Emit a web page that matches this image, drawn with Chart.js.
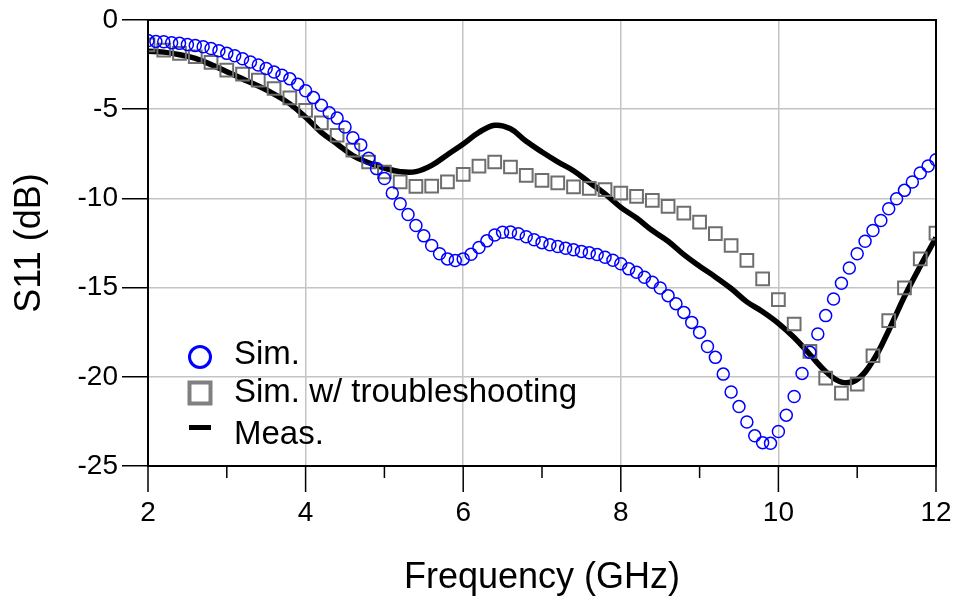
<!DOCTYPE html>
<html>
<head>
<meta charset="utf-8">
<script src="https://cdn.jsdelivr.net/npm/chart.js@4.4.1/dist/chart.umd.min.js"></script>
<style>
  html, body { margin: 0; padding: 0; background: #fff; }
</style>
</head>
<body>
<canvas id="myChart" width="956" height="605"></canvas>
<script>
// Sim. (blue circles), 0.1 GHz steps
const simFreq = [
  2.0, 2.1, 2.2, 2.3, 2.4, 2.5, 2.6, 2.7, 2.8, 2.9,
  3.0, 3.1, 3.2, 3.3, 3.4, 3.5, 3.6, 3.7, 3.8, 3.9,
  4.0, 4.1, 4.2, 4.3, 4.4, 4.5, 4.6, 4.7, 4.8, 4.9,
  5.0, 5.1, 5.2, 5.3, 5.4, 5.5, 5.6, 5.7, 5.8, 5.9,
  6.0, 6.1, 6.2, 6.3, 6.4, 6.5, 6.6, 6.7, 6.8, 6.9,
  7.0, 7.1, 7.2, 7.3, 7.4, 7.5, 7.6, 7.7, 7.8, 7.9,
  8.0, 8.1, 8.2, 8.3, 8.4, 8.5, 8.6, 8.7, 8.8, 8.9,
  9.0, 9.1, 9.2, 9.3, 9.4, 9.5, 9.6, 9.7, 9.8, 9.9,
  10.0, 10.1, 10.2, 10.3, 10.4, 10.5, 10.6, 10.7, 10.8, 10.9,
  11.0, 11.1, 11.2, 11.3, 11.4, 11.5, 11.6, 11.7, 11.8, 11.9,
  12.0
]
const simS11 = [
  -1.15, -1.2, -1.22, -1.27, -1.31, -1.37, -1.43, -1.5, -1.6, -1.72,
  -1.87, -2.0, -2.17, -2.35, -2.52, -2.72, -2.92, -3.1, -3.3, -3.6,
  -3.97, -4.35, -4.78, -5.2, -5.5, -6.0, -6.6, -7.0, -7.75, -8.33,
  -8.89, -9.7, -10.3, -10.9, -11.52, -12.1, -12.64, -13.1, -13.39, -13.48,
  -13.39, -13.13, -12.75, -12.38, -12.05, -11.9, -11.89, -11.98, -12.15, -12.32,
  -12.48, -12.6, -12.7, -12.8, -12.88, -12.97, -13.05, -13.15, -13.3, -13.47,
  -13.66, -13.95, -14.14, -14.42, -14.7, -15.02, -15.45, -15.9, -16.39, -16.95,
  -17.51, -18.3, -18.91, -19.85, -20.85, -21.67, -22.53, -23.31, -23.69, -23.73,
  -23.07, -22.15, -21.1, -19.81, -18.63, -17.6, -16.57, -15.64, -14.76, -13.9,
  -13.1, -12.4, -11.8, -11.24, -10.58, -10.02, -9.55, -9.08, -8.58, -8.18,
  -7.83
]

// Sim. w/ troubleshooting (grey squares), 0.2 GHz steps
const tsFreq = [
  2.0, 2.2, 2.4, 2.6, 2.8, 3.0, 3.2, 3.4, 3.6, 3.8,
  4.0, 4.2, 4.4, 4.6, 4.8, 5.0, 5.2, 5.4, 5.6, 5.8,
  6.0, 6.2, 6.4, 6.6, 6.8, 7.0, 7.2, 7.4, 7.6, 7.8,
  8.0, 8.2, 8.4, 8.6, 8.8, 9.0, 9.2, 9.4, 9.6, 9.8,
  10.0, 10.2, 10.4, 10.6, 10.8, 11.0, 11.2, 11.4, 11.6, 11.8,
  12.0
]
const tsS11 = [
  -1.4, -1.69, -1.87, -2.06, -2.38, -2.81, -3.03, -3.37, -3.84, -4.36,
  -5.06, -5.77, -6.46, -7.3, -7.96, -8.52, -9.08, -9.33, -9.31, -9.08,
  -8.65, -8.19, -7.96, -8.24, -8.71, -8.99, -9.13, -9.35, -9.44, -9.51,
  -9.7, -9.89, -10.11, -10.45, -10.82, -11.33, -11.98, -12.64, -13.48, -14.51,
  -15.67, -17.04, -18.58, -20.07, -20.92, -20.41, -18.82, -16.85, -15.02, -13.39,
  -11.95
]

// Meas. (thick black line)
const measFreq = [
  2.0, 2.2, 2.4, 2.6, 2.8, 3.0, 3.2, 3.4, 3.6, 3.8,
  4.0, 4.2, 4.4, 4.6, 4.8, 5.0, 5.2, 5.4, 5.6, 5.8,
  6.0, 6.2, 6.4, 6.6, 6.8, 7.0, 7.2, 7.4, 7.6, 7.8,
  8.0, 8.2, 8.4, 8.6, 8.8, 9.0, 9.2, 9.4, 9.6, 9.8,
  10.0, 10.2, 10.4, 10.6, 10.8, 11.0, 11.2, 11.4, 11.6, 11.8,
  12.0
]
const measS11 = [
  -1.75, -1.8, -1.95, -2.15, -2.5, -2.9, -3.3, -3.7, -4.15, -4.7,
  -5.45, -6.3, -6.95, -7.6, -8.0, -8.3, -8.5, -8.5, -8.15, -7.55,
  -6.95, -6.3, -5.9, -6.1, -6.8, -7.4, -7.95, -8.45, -9.1, -9.75,
  -10.5, -11.1, -11.8, -12.4, -13.15, -13.8, -14.4, -15.05, -15.8, -16.35,
  -17.0, -17.8, -18.75, -19.7, -20.3, -20.15, -19.1, -17.4, -15.5, -13.8,
  -12.2
]

const xLabelTicks = [2, 4, 6, 8, 10, 12]
const yTickValues = [0, -5, -10, -15, -20, -25]

const toPoints = (xs, ys) => xs.map((f, i) => ({ x: f, y: ys[i] }))

const FONT = '"Liberation Sans", Arial, Helvetica, sans-serif'
const gridGrey = '#c4c4c4'

// box round the plot + the long/short x tick marks
const frame = {
  id: 'frame',
  afterDraw(chart) {
    const { ctx, chartArea: a, scales } = chart
    const x = scales.x
    ctx.save()
    ctx.strokeStyle = '#000'
    ctx.lineWidth = 2
    ctx.strokeRect(a.left, a.top, a.right - a.left, a.bottom - a.top)
    ctx.lineWidth = 1.5
    x.ticks.forEach(t => {
      const px = x.getPixelForValue(t.value)
      const len = xLabelTicks.includes(t.value) ? 26 : 12
      ctx.beginPath()
      ctx.moveTo(px, a.bottom)
      ctx.lineTo(px, a.bottom + len)
      ctx.stroke()
    })
    ctx.restore()
  }
}

// legend sits inside the plot, bottom-left
const insideLegend = {
  id: 'insideLegend',
  afterDraw(chart) {
    const { ctx, chartArea: a } = chart
    const mx = a.left + 52
    const tx = a.left + 86
    const rows = [a.bottom - 111, a.bottom - 73, a.bottom - 31]
    ctx.save()
    ctx.font = '33px ' + FONT
    ctx.fillStyle = '#000'
    ctx.textBaseline = 'middle'

    // Sim.
    ctx.strokeStyle = '#0000ff'
    ctx.lineWidth = 3
    ctx.beginPath()
    ctx.arc(mx, rows[0] + 2, 10.5, 0, Math.PI * 2)
    ctx.stroke()
    ctx.fillText(chart.data.datasets[0].label, tx, rows[0])

    // Sim. w/ troubleshooting
    ctx.strokeStyle = '#808080'
    ctx.lineWidth = 4
    ctx.strokeRect(mx - 10.5, rows[1] - 10.5, 21, 21)
    ctx.fillText(chart.data.datasets[1].label, tx, rows[1])

    // Meas.
    ctx.fillRect(mx - 11, rows[2] - 10, 22, 5)
    ctx.fillText(chart.data.datasets[2].label, tx, rows[2])
    ctx.restore()
  }
}

const data = {
  datasets: [
    {
      label: 'Sim.',
      data: toPoints(simFreq, simS11),
      showLine: false,
      pointStyle: 'circle',
      pointRadius: 6,
      pointBorderWidth: 1.5,
      pointBorderColor: '#0000ff',
      pointBackgroundColor: 'rgba(0,0,0,0)',
      order: 1,
    },
    {
      label: 'Sim. w/ troubleshooting',
      data: toPoints(tsFreq, tsS11),
      showLine: false,
      pointStyle: 'rect',
      pointRadius: 9,
      pointBorderWidth: 2,
      pointBorderColor: '#6e6e6e',
      pointBackgroundColor: 'rgba(0,0,0,0)',
      order: 2,
    },
    {
      label: 'Meas.',
      data: toPoints(measFreq, measS11),
      showLine: true,
      borderColor: '#000',
      borderWidth: 5.5,
      pointRadius: 0,
      tension: 0.4,
      fill: false,
      order: 3,
    },
  ],
}

const config = {
  type: 'scatter',
  data: data,
  plugins: [frame, insideLegend],
  options: {
    responsive: false,
    animation: false,
    events: [],
    layout: { padding: { top: 20, right: 20, left: 0, bottom: 0 } },
    plugins: {
      legend: { display: false },
      tooltip: { enabled: false },
    },
    scales: {
      x: {
        type: 'linear',
        min: 2,
        max: 12,
        afterFit: (scale) => {
          scale.height = 139
          scale.paddingLeft = 0
          scale.paddingRight = 0
        },
        border: { display: false },
        grid: {
          drawTicks: false,
          lineWidth: 1.5,
          color: (c) => xLabelTicks.includes(c.tick && c.tick.value) ? gridGrey : 'rgba(0,0,0,0)',
        },
        ticks: {
          stepSize: 1,
          autoSkip: false,
          maxRotation: 0,
          padding: 30,
          color: '#000',
          font: { family: FONT, size: 28 },
          callback: (v) => xLabelTicks.includes(v) ? v : '',
        },
        title: {
          display: true,
          text: 'Frequency (GHz)',
          color: '#000',
          font: { family: FONT, size: 36 },
          padding: { top: 0, bottom: 5 },
        },
      },
      y: {
        min: -25,
        max: 0,
        afterFit: (scale) => {
          scale.width = 148
          scale.paddingTop = 0
          scale.paddingBottom = 0
        },
        afterBuildTicks: (scale) => { scale.ticks = yTickValues.map(v => ({ value: v })) },
        border: { display: false },
        grid: {
          color: gridGrey,
          lineWidth: 1.5,
          tickLength: 26,
          tickColor: '#000',
          tickWidth: 1.5,
        },
        ticks: {
          padding: 4,
          color: '#000',
          font: { family: FONT, size: 28 },
        },
        title: {
          display: true,
          text: 'S11 (dB)',
          color: '#000',
          font: { family: FONT, size: 36 },
          padding: { top: 8, bottom: 0 },
        },
      },
    },
  },
}

const myChart = new Chart(document.getElementById('myChart').getContext('2d'), config)
</script>
</body>
</html>
